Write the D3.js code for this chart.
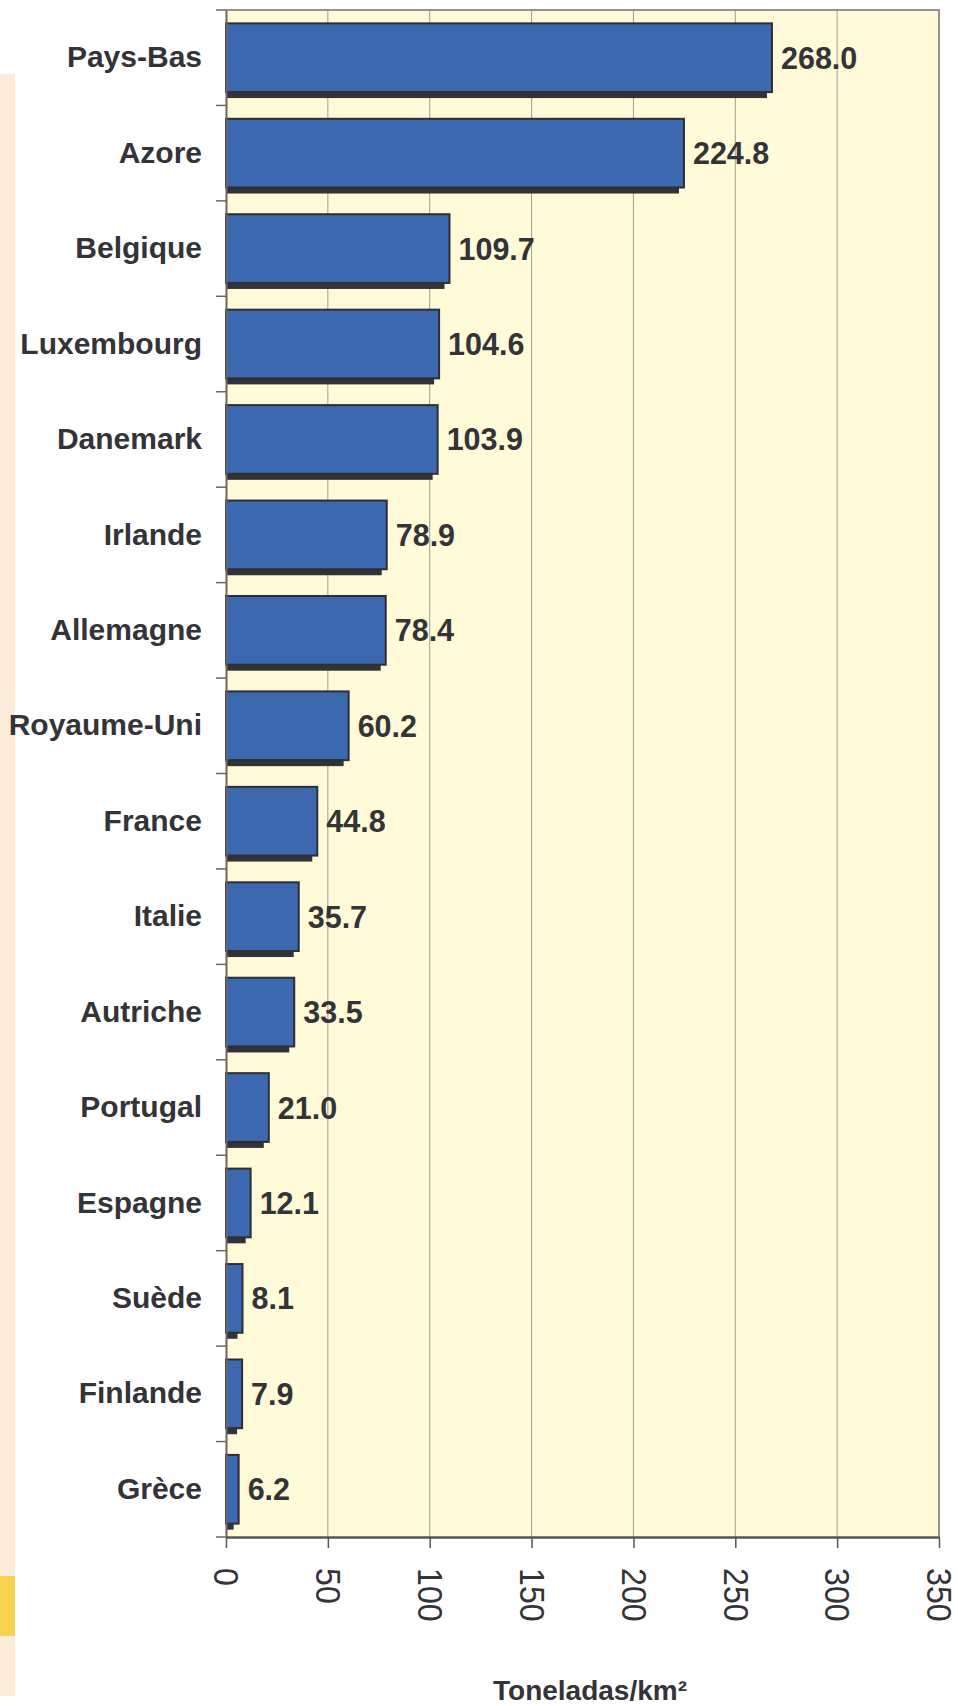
<!DOCTYPE html>
<html>
<head>
<meta charset="utf-8">
<script src="https://cdn.jsdelivr.net/npm/d3@7"></script>
<style>
  body { margin: 0; background: #fff; }
  svg { display: block; font-family: "Liberation Sans", Arial, sans-serif; }
</style>
</head>
<body>
<svg id="chart" width="958" height="1706"></svg>
<script>
// data
var countries = ['Pays-Bas', 'Azore', 'Belgique', 'Luxembourg', 'Danemark', 'Irlande', 'Allemagne',
    'Royaume-Uni', 'France', 'Italie', 'Autriche', 'Portugal', 'Espagne', 'Suède', 'Finlande', 'Grèce'];
var values = [268.0, 224.8, 109.7, 104.6, 103.9, 78.9, 78.4, 60.2, 44.8, 35.7, 33.5, 21.0, 12.1, 8.1, 7.9, 6.2];
var xTicks = [0, 50, 100, 150, 200, 250, 300, 350];
var axisTitle = 'Toneladas/km²';

var data = countries.map((c, i) => ({ country: c, value: values[i] }));

var svg = d3.select('#chart');
var margin = { top: 10, left: 226, right: 19, bottom: 169 };
var width = 958 - margin.left - margin.right;
var height = 1706 - margin.top - margin.bottom;

// pale strip on the far left
svg.append('rect').attr('x', 0).attr('y', 74).attr('width', 15).attr('height', 1622).attr('fill', '#fdecd9');
svg.append('rect').attr('x', 0).attr('y', 1576).attr('width', 15).attr('height', 60).attr('fill', '#f9d24f');

var chart = svg.append('g')
    .attr('transform', 'translate(' + margin.left + ',' + margin.top + ')');

var x = d3.scaleLinear().domain([0, 350]).range([0, width]);
var y = d3.scaleBand().domain(countries).range([0, height]);
var bw = y.bandwidth();

// plot background
chart.append('rect')
    .attr('width', width).attr('height', height)
    .attr('fill', '#fffad8');

// grid
chart.selectAll('.grid')
    .data(xTicks.slice(1, -1))
    .enter().append('line')
    .attr('x1', d => x(d)).attr('x2', d => x(d))
    .attr('y1', 0).attr('y2', height)
    .attr('stroke', '#a39c92').attr('stroke-width', 1);

// frame top/right
chart.append('path')
    .attr('d', 'M0,0H' + width + 'V' + height)
    .attr('fill', 'none').attr('stroke', '#9a918c').attr('stroke-width', 2);

var barTop = 0.14 * bw, barH = 0.72 * bw, sh = 6;

// shadows
chart.selectAll('.shadow')
    .data(data)
    .enter().append('rect')
    .attr('x', 0)
    .attr('y', d => y(d.country) + barTop + sh)
    .attr('width', d => Math.max(x(d.value) - sh + 1, 2))
    .attr('height', barH)
    .attr('fill', '#323237');

// bars
chart.selectAll('.bar')
    .data(data)
    .enter().append('rect')
    .attr('class', 'bar')
    .attr('x', 0)
    .attr('y', d => y(d.country) + barTop)
    .attr('width', d => x(d.value))
    .attr('height', barH)
    .attr('fill', '#3c68b0')
    .attr('stroke', '#2e2e34')
    .attr('stroke-width', 2);

// value labels
chart.selectAll('.bar-label')
    .data(data)
    .enter().append('text')
    .attr('x', d => x(d.value) + 9)
    .attr('y', d => y(d.country) + bw / 2)
    .attr('dy', '0.36em')
    .style('font-size', '30.5px')
    .style('font-weight', 'bold')
    .attr('fill', '#333338')
    .text(d => d3.format('.1f')(d.value));

// y axis
var yAxis = chart.append('g')
    .call(d3.axisLeft(y).tickSize(0).tickPadding(24));
yAxis.select('.domain').attr('stroke', '#6b6566').attr('stroke-width', 2);
yAxis.selectAll('text')
    .style('font-size', '30px').style('font-weight', 'bold')
    .attr('fill', '#333338');

// y ticks at band edges
chart.selectAll('.ytick')
    .data(countries.concat(['_end']))
    .enter().append('line')
    .attr('x1', -10).attr('x2', 0)
    .attr('y1', (d, i) => i * bw).attr('y2', (d, i) => i * bw)
    .attr('stroke', '#6b6566').attr('stroke-width', 1.5);

// x axis
var xAxis = chart.append('g')
    .attr('transform', 'translate(0,' + height + ')')
    .call(d3.axisBottom(x).tickValues(xTicks).tickSize(11).tickSizeOuter(0).tickPadding(0));
xAxis.select('.domain').attr('stroke', '#5a5456').attr('stroke-width', 2.5);
xAxis.selectAll('line').attr('stroke', '#5a5456').attr('stroke-width', 1.5);
xAxis.selectAll('text')
    .attr('fill', '#333338')
    .style('font-size', '35px')
    .attr('text-anchor', 'start')
    .attr('dy', '0.35em')
    .attr('y', 0)
    .attr('transform', 'translate(0,31) rotate(90) scale(0.92,1)');

// axis title
svg.append('text')
    .attr('x', 590).attr('y', 1700)
    .attr('text-anchor', 'middle')
    .style('font-size', '28px').style('font-weight', 'bold')
    .attr('fill', '#333338')
    .text(axisTitle);
</script>
</body>
</html>
